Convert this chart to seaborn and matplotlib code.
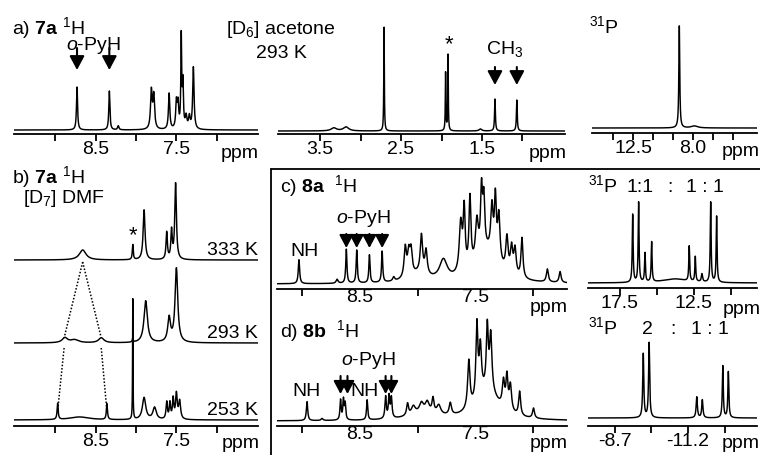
import numpy as np
import matplotlib
matplotlib.use("Agg")
import matplotlib.pyplot as plt
import seaborn as sns
from matplotlib.lines import Line2D

# ---------------- data (peak lists) ----------------
# panel a, 7a 1H aromatic region  (ppm, height in px, half width ppm)
a1_pos = [8.73, 8.33, 8.22, 7.81, 7.78, 7.59, 7.50, 7.48, 7.44, 7.42, 7.38, 7.34, 7.29]
a1_hgt = [43, 39, 4, 38, 33, 36, 26, 24, 90, 45, 12, 12, 62]
a1_hw = [0.008, 0.008, 0.01, 0.012, 0.012, 0.010, 0.010, 0.010, 0.006, 0.008, 0.012, 0.012, 0.010]
a1_opyh = [8.73, 8.33]

# panel a, aliphatic region
a2_pos = [3.33, 3.18, 2.71, 1.95, 1.92, 1.52, 1.34, 1.07]
a2_hgt = [3, 4, 104, 58, 76, 2, 32, 31]
a2_hw = [0.04, 0.04, 0.004, 0.004, 0.004, 0.02, 0.006, 0.006]
a2_ch3 = [1.34, 1.07]

# panel a, 31P
a3_pos = [9.03, 7.9]
a3_hgt = [102, 2]
a3_hw = [0.04, 0.3]

# panel b, variable temperature (7a in DMF)
b_temps = ["333 K", "293 K", "253 K"]
b_offset = [160, 77, 0]
b333_pos = [8.66, 8.04, 7.90, 7.62, 7.56, 7.51]
b333_hgt = [10, 15, 50, 27, 28, 76]
b333_hw = [0.05, 0.007, 0.014, 0.010, 0.010, 0.012]
b293_pos = [8.88, 8.76, 8.43, 8.04, 7.88, 7.59, 7.50]
b293_hgt = [5, 3, 5, 4, 42, 24, 74]
b293_hw = [0.04, 0.06, 0.04, 0.006, 0.025, 0.02, 0.02]
b253_pos = [8.97, 8.70, 8.36, 8.04, 7.90, 7.77, 7.62, 7.58, 7.54, 7.50, 7.46]
b253_hgt = [16, 3, 16, 122, 22, 12, 17, 16, 20, 25, 18]
b253_hw = [0.008, 0.15, 0.008, 0.003, 0.025, 0.025, 0.010, 0.010, 0.010, 0.012, 0.014]
b_dots_x = [[8.66, 8.89], [8.66, 8.43], [8.89, 8.97], [8.43, 8.36]]
b_dots_y = [[158, 82], [158, 82], [72, 9], [72, 9]]

# panel c, 8a 1H
c_pos = [9.03, 8.70, 8.62, 8.53, 8.42, 8.31, 8.21, 8.11, 8.08, 8.06, 7.97, 7.93, 8.00,
         7.78, 7.63, 7.60, 7.55, 7.49, 7.45, 7.43, 7.36, 7.33, 7.30, 7.23, 7.19, 7.16,
         7.10, 6.88, 6.77, 7.40]
c_hgt = [24, 4, 34, 33, 28, 31, 4, 30, 22, 24, 38, 24, 8,
         20, 50, 60, 70, 40, 62, 50, 46, 58, 46, 34, 26, 26,
         40, 13, 11, 30]
c_hw = [0.007, 0.01, 0.006, 0.006, 0.006, 0.006, 0.01, 0.012, 0.012, 0.012, 0.012, 0.012, 0.1,
        0.04, 0.015, 0.010, 0.010, 0.015, 0.010, 0.010, 0.012, 0.010, 0.012, 0.012, 0.012, 0.012,
        0.010, 0.010, 0.010, 0.12]
c_opyh = [8.62, 8.53, 8.42, 8.31]

# panel d, 8b 1H
d_pos = [8.96, 8.83, 8.67, 8.645, 8.63, 8.44, 8.28, 8.25, 8.23, 8.09, 8.04, 7.97, 7.92,
         7.87, 7.82, 7.72, 7.56, 7.49, 7.46, 7.40, 7.37, 7.26, 7.23, 7.20, 7.12, 7.00, 7.40, 7.95]
d_hgt = [19, 2, 20, 20, 16, 20, 22, 22, 20, 12, 8, 9, 10,
         14, 9, 12, 48, 74, 48, 62, 56, 26, 32, 26, 24, 10, 28, 7]
d_hw = [0.007, 0.01, 0.006, 0.006, 0.006, 0.006, 0.007, 0.007, 0.007, 0.010, 0.02, 0.02, 0.02,
        0.010, 0.02, 0.012, 0.012, 0.010, 0.012, 0.010, 0.012, 0.012, 0.010, 0.012, 0.010, 0.010, 0.12, 0.15]
d_opyh = [8.67, 8.61, 8.28, 8.23]

# panel c, 31P
cp_pos = [16.64, 16.24, 15.81, 15.36, 13.8, 12.82, 12.41, 11.96, 11.37, 10.97]
cp_hgt = [68, 80, 29, 40, 4, 35, 25, 8, 80, 66]
cp_hw = [0.035, 0.035, 0.035, 0.035, 1.0, 0.035, 0.035, 0.05, 0.035, 0.035]

# panel d, 31P
dp_pos = [-9.67, -9.87, -11.50, -11.69, -12.39, -12.58]
dp_hgt = [64, 75, 21, 18, 52, 46]
dp_hw = [0.022, 0.022, 0.025, 0.025, 0.02, 0.02]

# ---------------- style ----------------
sns.set_theme(style="white")
plt.rcParams["font.family"] = ["Liberation Sans", "DejaVu Sans"]
plt.rcParams["mathtext.fontset"] = "custom"
plt.rcParams["mathtext.rm"] = "Liberation Sans"
plt.rcParams["mathtext.it"] = "Liberation Sans:italic"
plt.rcParams["mathtext.bf"] = "Liberation Sans:bold"
FS = 14
W, H = 760, 455
fig = plt.figure(figsize=(7.6, 4.55), dpi=100)
fig.patch.set_facecolor("white")


def spectrum(ppm, pos, hgt, hw):
    y = np.zeros_like(ppm)
    for p, h, g in zip(pos, hgt, hw):
        y += h / (1.0 + ((ppm - p) / g) ** 2)
    return y


def make_ax(x0, x1, ytop, yspine, off, xlim, major, labels, minor, major_len=5):
    ax = fig.add_axes([x0 / W, 1 - yspine / H, (x1 - x0) / W, (yspine - ytop) / H])
    ax.set_facecolor("none")
    ax.set_ylim(-off, yspine - ytop - off)
    ax.set_xlim(*xlim)
    for s in ["left", "right", "top"]:
        ax.spines[s].set_visible(False)
    ax.spines["bottom"].set_color("black")
    ax.spines["bottom"].set_linewidth(1.3)
    ax.spines["bottom"].set_position(("data", -off))
    ax.set_yticks([])
    ax.set_xticks(major, labels)
    ax.set_xticks(minor, minor=True)
    ax.tick_params(axis="x", which="major", direction="out", length=major_len, width=1.3,
                   color="black", labelsize=FS, pad=0, bottom=True, labelcolor="black")
    ax.tick_params(axis="x", which="minor", direction="out", length=5, width=1.3,
                   color="black", bottom=True)
    return ax


def draw(ax, xlim, pos, hgt, hw, offset=0, lw=1.05):
    ppm = np.linspace(xlim[0], xlim[1], 4000)
    y = spectrum(ppm, pos, hgt, hw) + offset
    sns.lineplot(x=ppm, y=y, ax=ax, color="black", lw=lw, estimator=None, sort=False)
    ax.set_xlabel("")
    ax.set_ylabel("")


def arrow(ax, x, y0, y1, ms=14):
    ax.annotate("", xy=(x, y1), xytext=(x, y0),
                arrowprops=dict(arrowstyle="-|>,head_length=0.6,head_width=0.32", color="black",
                                lw=1.5, shrinkA=0, shrinkB=0, mutation_scale=ms),
                annotation_clip=False)


def ftext(x, y, s, **kw):
    kw.setdefault("fontsize", FS)
    kw.setdefault("color", "black")
    fig.text(x / W, 1 - y / H, s, **kw)


# ---- panel a (aromatic)
xa = (9.51, 6.49)
ax1 = make_ax(14, 258, 5, 134, 4, xa, [8.5, 7.5], ["8.5", "7.5"], [9.0, 8.0, 7.0])
draw(ax1, xa, a1_pos, a1_hgt, a1_hw)
for p in a1_opyh:
    arrow(ax1, p, 134 - 4 - 48, 134 - 4 - 70)

# ---- panel a (aliphatic)
xm = (4.02, 0.475)
ax2 = make_ax(278, 565, 5, 134, 3, xm, [3.5, 2.5, 1.5], ["3.5", "2.5", "1.5"], [3.0, 2.0, 1.0])
draw(ax2, xm, a2_pos, a2_hgt, a2_hw)
for p in a2_ch3:
    arrow(ax2, p, 134 - 3 - 67, 134 - 3 - 85)

# ---- panel a (31P)
xp = (15.58, 3.2)
ax3 = make_ax(592, 757, 5, 133, 5, xp, [12.5, 8.0], ["12.5", "8.0"], [14.0, 11.0, 9.5, 6.5, 5.0])
draw(ax3, xp, a3_pos, a3_hgt, a3_hw)

# ---- panel b
axb = make_ax(14, 258, 172, 426, 6, xa, [8.5, 7.5], ["8.5", "7.5"], [9.0, 8.0, 7.0])
for (pos, hgt, hw), off in zip([(b333_pos, b333_hgt, b333_hw), (b293_pos, b293_hgt, b293_hw),
                                (b253_pos, b253_hgt, b253_hw)], b_offset):
    draw(axb, xa, pos, hgt, hw, offset=off)
for xs, ys in zip(b_dots_x, b_dots_y):
    axb.plot(xs, ys, color="black", lw=1.1, ls=(0, (1, 1.2)))

# ---- panel c
xc = (9.22, 6.71)
axc = make_ax(277, 567, 172, 289, 5, xc, [8.5, 7.5], ["8.5", "7.5"], [9.0, 8.0, 7.0], major_len=0)
draw(axc, xc, c_pos, c_hgt, c_hw)
for p in c_opyh:
    arrow(axc, p, 289 - 5 - 234, 289 - 5 - 248, ms=13)

# ---- panel c 31P
xcp = (19.66, 8.24)
axcp = make_ax(588, 757, 172, 288, 5, xcp, [17.5, 12.5], ["17.5", "12.5"], [15.0, 10.0])
draw(axcp, xcp, cp_pos, cp_hgt, cp_hw)

# ---- panel d
axd = make_ax(277, 567, 312, 426, 5, xc, [8.5, 7.5], ["8.5", "7.5"], [9.0, 8.0, 7.0], major_len=0)
draw(axd, xc, d_pos, d_hgt, d_hw)
for p in d_opyh:
    arrow(axd, p, 426 - 5 - 376, 426 - 5 - 394, ms=13)

# ---- panel d 31P
xdp = (-7.78, -13.56)
axdp = make_ax(588, 757, 312, 426, 8, xdp, [-8.7, -11.2], ["-8.7", "-11.2"], [-9.95, -12.45])
draw(axdp, xdp, dp_pos, dp_hgt, dp_hw)

# ---------------- texts ----------------
ftext(12, 34, r"a) $\mathbf{7a}$ $^{1}$H", va="baseline")
ftext(93, 50, r"$\mathit{o}$-PyH", ha="center", va="baseline")
ftext(226, 34, r"[D$_{6}$] acetone", va="baseline")
ftext(256, 58, "293 K", va="baseline")
ftext(449, 50, "*", ha="center", va="baseline", fontsize=16)
ftext(505, 54, r"CH$_{3}$", ha="center", va="baseline")
ftext(589, 33, r"$^{31}$P", va="baseline")
ftext(240, 154, "ppm", ha="center", va="center")
ftext(548, 154, "ppm", ha="center", va="center")
ftext(741, 152, "ppm", ha="center", va="center")

ftext(12, 183, r"b) $\mathbf{7a}$ $^{1}$H", va="baseline")
ftext(23, 203, r"[D$_{7}$] DMF", va="baseline")
ftext(133, 241, "*", ha="center", va="baseline", fontsize=16)
for t, yb in zip(b_temps, [255, 338, 415]):
    ftext(258, yb, t, ha="right", va="baseline")
ftext(241, 444, "ppm", ha="center", va="center")

ftext(280, 192, r"c) $\mathbf{8a}$  $^{1}$H", va="baseline")
ftext(363, 223, r"$\mathit{o}$-PyH", ha="center", va="baseline")
ftext(305, 256, "NH", ha="center", va="baseline")
ftext(549, 307, "ppm", ha="center", va="center")

ftext(280, 337, r"d) $\mathbf{8b}$  $^{1}$H", va="baseline")
ftext(368, 365, r"$\mathit{o}$-PyH", ha="center", va="baseline")
ftext(307, 396, "NH", ha="center", va="baseline")
ftext(365, 396, "NH", ha="center", va="baseline")
ftext(549, 444, "ppm", ha="center", va="center")

ftext(588, 192, r"$^{31}$P", va="baseline")
ftext(640, 192, "1:1", ha="center", va="baseline")
ftext(670, 192, ":", ha="center", va="baseline")
ftext(705, 192, "1 : 1", ha="center", va="baseline")
ftext(742, 309, "ppm", ha="center", va="center")

ftext(588, 334, r"$^{31}$P", va="baseline")
ftext(647, 334, "2", ha="center", va="baseline")
ftext(673, 334, ":", ha="center", va="baseline")
ftext(710, 334, "1 : 1", ha="center", va="baseline")
ftext(741, 443, "ppm", ha="center", va="center")

# frame around panels c/d
fig.add_artist(Line2D([271 / W, 271 / W], [1 - 169 / H, 0], transform=fig.transFigure,
                      color="black", lw=1.3))
fig.add_artist(Line2D([271 / W, 760 / W], [1 - 169 / H, 1 - 169 / H], transform=fig.transFigure,
                      color="black", lw=1.3))

fig.savefig("out.png", dpi=100, facecolor="white")
